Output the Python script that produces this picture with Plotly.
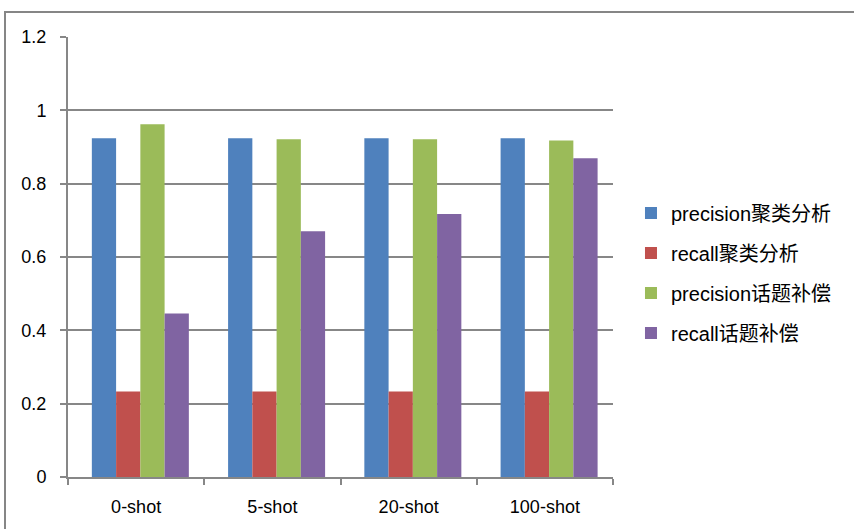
import plotly.graph_objects as go

# Shot settings on the x axis
categories = ["0-shot", "5-shot", "20-shot", "100-shot"]

# Scores per method
precision_cluster = [0.924, 0.924, 0.924, 0.924]
recall_cluster = [0.233, 0.233, 0.233, 0.233]
precision_topic = [0.962, 0.921, 0.921, 0.918]
recall_topic = [0.446, 0.670, 0.717, 0.869]

series_names = ["precision聚类分析", "recall聚类分析", "precision话题补偿", "recall话题补偿"]
series_values = [precision_cluster, recall_cluster, precision_topic, recall_topic]
series_colors = ["#4F81BD", "#C0504D", "#9BBB59", "#8064A2"]

y_ticks = [0, 0.2, 0.4, 0.6, 0.8, 1, 1.2]

font_family = "Liberation Sans, Arial, Noto Sans CJK SC, sans-serif"
axis_gray = "#878787"

# bar width and per-series offset, in category units
bar_width = 0.178
first_offset = -0.325

fig = go.Figure()
for i, (name, vals, color) in enumerate(zip(series_names, series_values, series_colors)):
    fig.add_trace(go.Bar(
        x=categories, y=vals, name=name,
        marker=dict(color=color, line=dict(width=0)),
        width=bar_width, offset=first_offset + i * bar_width,
        legendgroup=f"g{i}",
    ))

fig.update_layout(
    width=854, height=529,
    margin=dict(l=68, r=241, t=37, b=52),
    paper_bgcolor="white", plot_bgcolor="white",
    barmode="overlay",
    font=dict(family=font_family, size=18, color="#000000"),
    showlegend=True,
    legend=dict(
        x=1.033, xanchor="left", y=0.4636, yanchor="middle",
        font=dict(family=font_family, size=20, color="#000000"),
        tracegroupgap=11, bgcolor="rgba(0,0,0,0)",
    ),
    xaxis=dict(
        showgrid=False, showline=True, linecolor=axis_gray, linewidth=2,
        ticks="outside", tickson="boundaries", ticklen=6, tickcolor=axis_gray,
        tickwidth=2, ticklabelstandoff=12,
        tickfont=dict(size=18, family=font_family),
    ),
    yaxis=dict(
        range=[0, 1.2], tickvals=y_ticks, ticktext=[str(v) for v in y_ticks],
        showgrid=True, gridcolor=axis_gray, gridwidth=2,
        showline=True, linecolor=axis_gray, linewidth=2,
        ticks="outside", ticklen=6, tickcolor=axis_gray, tickwidth=2,
        ticklabelstandoff=10, zeroline=False,
        tickfont=dict(size=18, family=font_family),
    ),
    shapes=[dict(
        type="rect", xref="paper", yref="paper",
        x0=-0.1156, x1=1.46, y0=-0.14, y1=1.0568,
        line=dict(color="#868686", width=2), fillcolor="rgba(0,0,0,0)",
        layer="below",
    )],
)

fig.write_html("out.html")
